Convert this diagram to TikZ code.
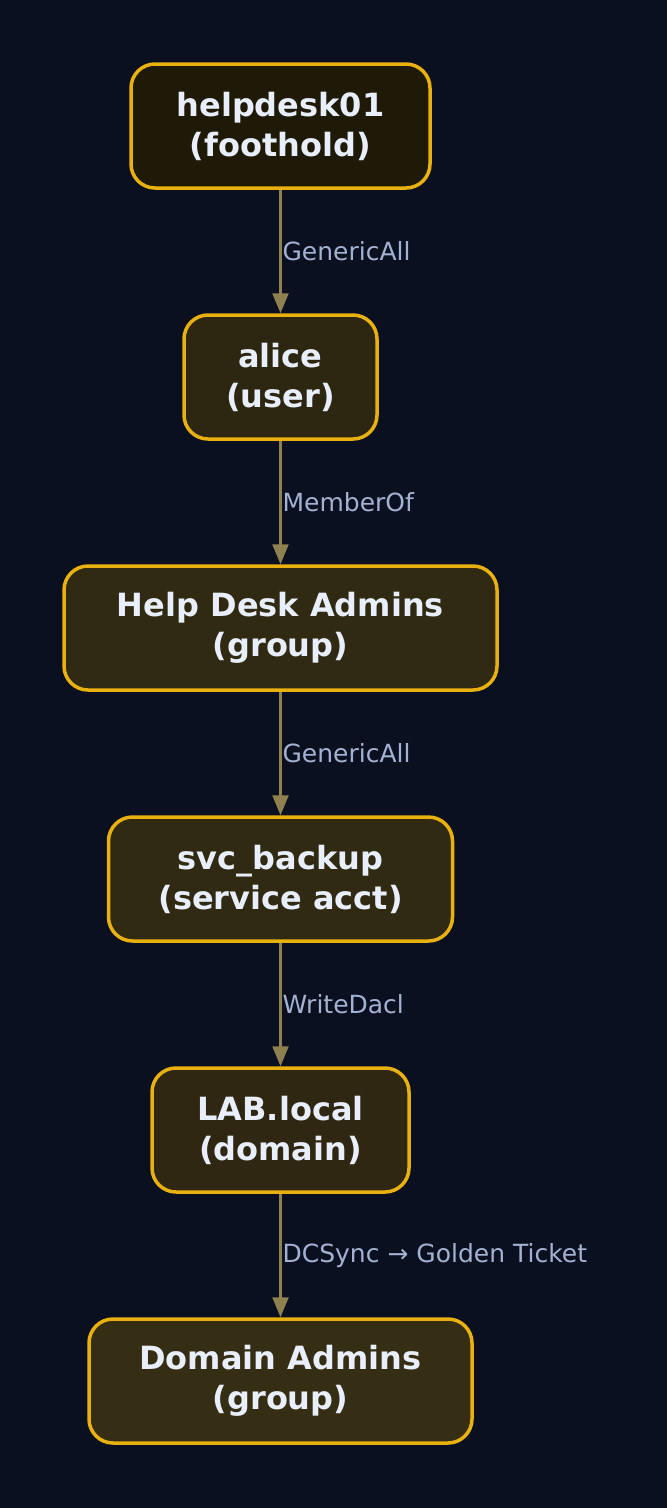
\documentclass[tikz,border=0pt]{standalone}
\usepackage{fontspec}
\setmainfont{DejaVu Sans}
\usetikzlibrary{arrows.meta}
\definecolor{bg}{HTML}{0B1020}
\definecolor{bord}{HTML}{E8B10F}
\definecolor{txt}{HTML}{E8EEFA}
\definecolor{lbl}{HTML}{A3B2D2}
\definecolor{edge}{HTML}{8F8050}
\definecolor{fa}{HTML}{1F1A08}
\definecolor{fb}{HTML}{2D2711}
\definecolor{fc}{HTML}{302A13}
\definecolor{fd}{HTML}{312A13}
\definecolor{fe}{HTML}{2F2712}
\definecolor{ff}{HTML}{362E14}
\tikzset{
  nbox/.style={draw=bord, line width=3.5pt, rounded corners=24pt, minimum height=124pt,
    text=txt, align=center, font=\fontsize{32}{40}\selectfont\bfseries, inner sep=0pt},
  conn/.style={draw=edge, line width=2.2pt, -{Triangle[length=20pt,width=16pt]}},
  elbl/.style={text=lbl, font=\fontsize{25}{30}\selectfont, anchor=west, inner sep=0pt}
}
\begin{document}
\begin{tikzpicture}[x=1pt,y=-1pt]
\fill[bg] (0,0) rectangle (667,1508);
\useasboundingbox (0,0) rectangle (667,1508);
\node[nbox, fill=fa, minimum width=299pt] (n1) at (280.5,126) {helpdesk01\\(foothold)};
\node[nbox, fill=fb, minimum width=193pt] (n2) at (280.5,377) {alice\\(user)};
\node[nbox, fill=fc, minimum width=433pt] (n3) at (280.5,628) {Help Desk Admins\\(group)};
\node[nbox, fill=fd, minimum width=344pt] (n4) at (280.5,879) {svc\_backup\\(service acct)};
\node[nbox, fill=fe, minimum width=257pt] (n5) at (280.5,1130) {LAB.local\\(domain)};
\node[nbox, fill=ff, minimum width=383pt] (n6) at (280.5,1381) {Domain Admins\\(group)};
\draw[conn] (n1) -- (n2) node[elbl, pos=0.5, xshift=1pt] (l1) {GenericAll};
\draw[conn] (n2) -- (n3) node[elbl, pos=0.5, xshift=1pt] (l2) {MemberOf};
\draw[conn] (n3) -- (n4) node[elbl, pos=0.5, xshift=1pt] (l3) {GenericAll};
\draw[conn] (n4) -- (n5) node[elbl, pos=0.5, xshift=1pt] (l4) {WriteDacl};
\draw[conn] (n5) -- (n6) node[elbl, pos=0.5, xshift=1pt] (l5) {DCSync → Golden Ticket};
\end{tikzpicture}
\end{document}
